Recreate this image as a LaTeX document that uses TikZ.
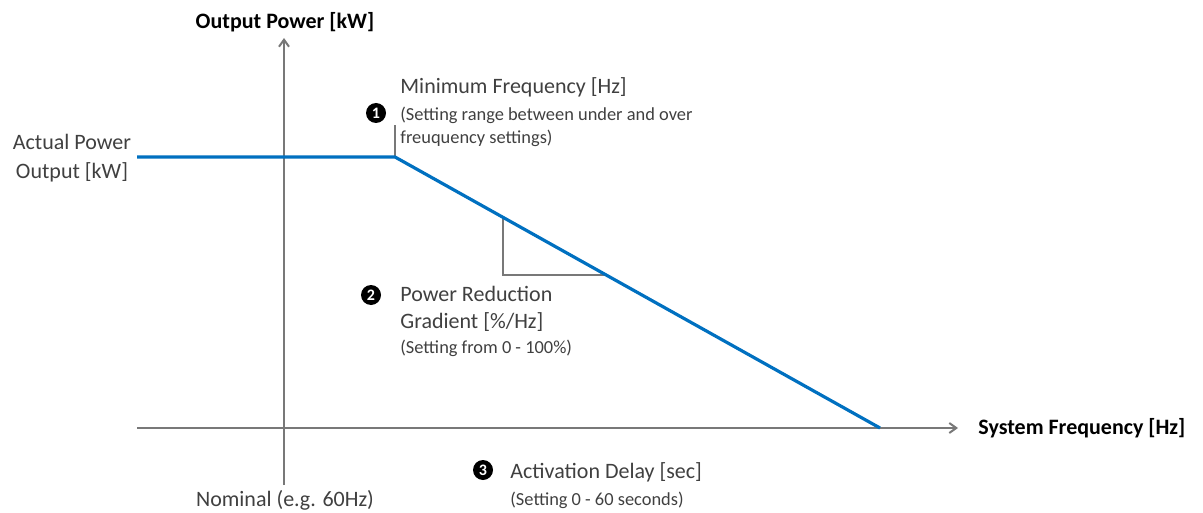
\documentclass[tikz,border=0pt]{standalone}
\usepackage{fontspec}
\setmainfont{Carlito}
\usetikzlibrary{arrows.meta,calc}
\definecolor{curveblue}{RGB}{0,112,192}
\definecolor{axisgray}{RGB}{120,120,120}
\definecolor{textgray}{RGB}{64,64,64}
\tikzset{
  num/.style={circle,fill=black,text=white,inner sep=0pt,minimum size=10pt,font=\bfseries\fontsize{8}{8}\selectfont},
  lbl/.style={anchor=west,inner sep=0pt,text=textgray,align=left,font=\fontsize{11}{13.5}\selectfont},
  note/.style={anchor=west,inner sep=0pt,text=textgray,align=left,font=\fontsize{9.2}{11.5}\selectfont},
  axislbl/.style={inner sep=0pt,font=\bfseries\fontsize{11}{13}\selectfont},
}

\begin{document}
\begin{tikzpicture}[x=0.5pt,y=-0.5pt]
    \useasboundingbox (0,0) rectangle (1203,513);
    \coordinate (yb) at (284,485);
    \coordinate (yt) at (284,38);
    \coordinate (xl) at (137,428);
    \coordinate (xr) at (958,428);
    \draw[axisgray,line width=1pt,-{Straight Barb[length=3.5pt,width=5pt]}](xl)--(xr);
    \draw[axisgray,line width=1pt,-{Straight Barb[length=3.5pt,width=5pt]}](yb)--(yt);
    \node[axislbl] (ylbl) at (285,22) {Output Power [kW]};
    \node[axislbl,anchor=west] (xlbl) at (978,428) {System Frequency [Hz]};
    \node[inner sep=0pt,align=center,text=textgray,font=\fontsize{11}{14.5}\selectfont] (actual) at (72,158) {Actual Power\\Output [kW]};
    \node[inner sep=0pt,text=textgray,font=\fontsize{11}{13}\selectfont] (nominal) at (285,500) {Nominal (e.g. 60Hz)};
    % curve
    \coordinate (p0) at (137,157);
    \coordinate (knee) at (395,157);
    \coordinate (fend) at (880,428);
    \coordinate (tick) at (395,125);
    \draw[axisgray,line width=0.7pt](knee)--(tick);
    \coordinate (ta) at ($(knee)!0.2227!(fend)$);
    \coordinate (tb) at ($(knee)!0.4371!(fend)$);
    \draw[axisgray,line width=1pt](ta)--(ta |- tb)--(tb);
    \draw[curveblue,line width=1.6pt,line join=round](p0)--(knee)--(fend);
    % setting 1
    \node[num] (n1) at (376,113) {1};
    \node[lbl] (minf) at (400,87) {Minimum Frequency [Hz]};
    \node[note] (minfnote) at (400,126.5) {(Setting range between under and over\\freuquency settings)};
    % setting 2
    \node[num] (n2) at (371,295) {2};
    \node[lbl] (grad) at (400,308.5) {Power Reduction\\Gradient [\%/Hz]};
    \node[note] (gradnote) at (400,348) {(Setting from 0 - 100\%)};
    % setting 3
    \node[num] (n3) at (483,470) {3};
    \node[lbl] (delay) at (510,472) {Activation Delay [sec]};
    \node[note] (delaynote) at (510,500) {(Setting 0 - 60 seconds)};
\end{tikzpicture}
\end{document}
